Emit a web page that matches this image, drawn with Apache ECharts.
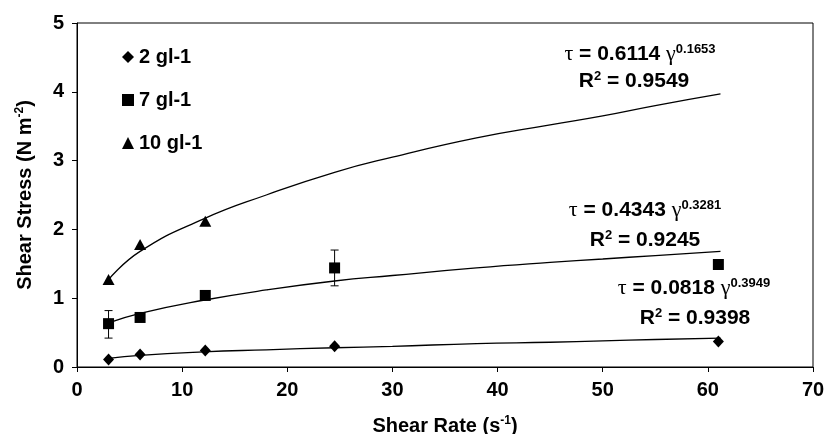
<!DOCTYPE html>
<html>
<head>
<meta charset="utf-8">
<script src="https://cdn.jsdelivr.net/npm/echarts@6/dist/echarts.min.js"></script>
<style>
  html, body { margin: 0; padding: 0; background: #fff; }
  #main { width: 833px; height: 434px; }
</style>
</head>
<body>
<div id="main"></div>
<script>
  // measured points
  const shearRate = [3, 6, 12.2, 24.5, 61];
  const shearRate10 = [3, 6, 12.2];
  const stress2 = [0.11, 0.18, 0.24, 0.30, 0.37];
  const stress7 = [0.63, 0.72, 1.04, 1.44, 1.49];
  const stress10 = [1.27, 1.78, 2.12];
  // error bars for 7 gl-1: [x, low, high]
  const errors7 = [[3, 0.42, 0.82], [24.5, 1.18, 1.70]];

  // trend lines
  const trendX = [3, 6, 12, 18, 24.5, 30, 38, 45, 50, 55, 61.2];
  const trend2 = [0.125, 0.17, 0.22, 0.25, 0.28, 0.30, 0.34, 0.36, 0.38, 0.40, 0.42];
  const trend7 = [0.64, 0.78, 0.97, 1.12, 1.25, 1.33, 1.44, 1.52, 1.57, 1.62, 1.68];
  const trend10 = [1.27, 1.68, 2.15, 2.50, 2.83, 3.05, 3.33, 3.52, 3.65, 3.80, 3.97];

  const xTicks = [0, 10, 20, 30, 40, 50, 60, 70];
  const yTicks = [0, 1, 2, 3, 4, 5];

  const FONT = '"Liberation Sans", Arial, sans-serif';
  const INK = '#000';

  const pairs = (xs, ys) => xs.map((x, i) => [x, ys[i]]);

  const myChart = echarts.init(document.getElementById('main'));

  const supRich = {
    sup: { fontSize: 13, fontWeight: 'bold', fontFamily: FONT, verticalAlign: 'top', padding: [0, 0, 10, 0] },
    g: { fontSize: 22, fontFamily: '"Liberation Serif", serif', fontWeight: 'normal' },
  };

  function eqText(left, top, text) {
    return {
      type: 'text',
      x: left,
      y: top,
      style: {
        text: text,
        fontSize: 21,
        fontWeight: 'bold',
        fontFamily: FONT,
        fill: INK,
        align: 'center',
        verticalAlign: 'middle',
        rich: supRich,
      },
    };
  }

  const trendLine = (data) => ({
    type: 'line',
    data: data,
    showSymbol: false,
    smooth: true,
    silent: true,
    lineStyle: { color: INK, width: 1.3 },
    z: 1,
  });

  const nameStyle = {
    fontSize: 20, fontWeight: 'bold', color: INK, fontFamily: FONT,
    rich: { sup: { fontSize: 12, fontWeight: 'bold', verticalAlign: 'top', padding: [0, 0, 10, 0] } },
  };

  const option = {
    animation: false,
    backgroundColor: '#fff',
    textStyle: { fontFamily: FONT },
    grid: {
      left: 77, right: 20, top: 23, bottom: 67,
      containLabel: false,
      outerBoundsMode: 'none',
      show: true, borderColor: INK, borderWidth: 1,
    },
    legend: {
      orient: 'vertical',
      left: 117,
      top: 42,
      itemWidth: 12,
      itemHeight: 12,
      itemGap: 23,
      textStyle: { fontSize: 20, fontWeight: 'bold', color: INK, fontFamily: FONT },
      data: ['2 gl-1', '7 gl-1', '10 gl-1'],
    },
    xAxis: {
      type: 'value',
      min: 0,
      max: 70,
      interval: 10,
      name: 'Shear Rate (s{sup|-1})',
      nameLocation: 'middle',
      nameGap: 48,
      nameTextStyle: nameStyle,
      axisLine: { lineStyle: { color: INK, width: 1 } },
      axisTick: { show: true, length: 5, lineStyle: { color: INK } },
      axisLabel: { fontSize: 20, fontWeight: 'bold', color: INK, margin: 13,
        formatter: (v) => (xTicks.includes(v) ? String(v) : '') },
      splitLine: { show: false },
    },
    yAxis: {
      type: 'value',
      min: 0,
      max: 5,
      interval: 1,
      name: 'Shear Stress (N m{sup|-2})',
      nameLocation: 'middle',
      nameGap: 41,
      nameTextStyle: nameStyle,
      axisLine: { show: true, lineStyle: { color: INK, width: 1 } },
      axisTick: { show: true, length: 5, lineStyle: { color: INK } },
      axisLabel: { fontSize: 20, fontWeight: 'bold', color: INK, margin: 13,
        formatter: (v) => (yTicks.includes(v) ? String(v) : '') },
      splitLine: { show: false },
    },
    graphic: [
      eqText(640, 54, '{g|τ} = 0.6114 {g|γ}{sup|0.1653}'),
      eqText(634, 81, 'R{sup|2} = 0.9549'),
      eqText(645, 210, '{g|τ} = 0.4343 {g|γ}{sup|0.3281}'),
      eqText(645, 240, 'R{sup|2} = 0.9245'),
      eqText(694, 288, '{g|τ} = 0.0818 {g|γ}{sup|0.3949}'),
      eqText(695, 318, 'R{sup|2} = 0.9398'),
    ],
    series: [
      trendLine(pairs(trendX, trend2)),
      trendLine(pairs(trendX, trend7)),
      trendLine(pairs(trendX, trend10)),
      {
        type: 'custom',
        silent: true,
        z: 2,
        data: errors7,
        renderItem(params, api) {
          const x = api.value(0);
          const lo = api.coord([x, api.value(1)]);
          const hi = api.coord([x, api.value(2)]);
          const w = 4;
          const style = { stroke: INK, lineWidth: 1 };
          return {
            type: 'group',
            children: [
              { type: 'line', shape: { x1: lo[0], y1: lo[1], x2: hi[0], y2: hi[1] }, style },
              { type: 'line', shape: { x1: lo[0] - w, y1: lo[1], x2: lo[0] + w, y2: lo[1] }, style },
              { type: 'line', shape: { x1: hi[0] - w, y1: hi[1], x2: hi[0] + w, y2: hi[1] }, style },
            ],
          };
        },
      },
      {
        name: '2 gl-1',
        type: 'scatter',
        symbol: 'diamond',
        symbolSize: [11, 12],
        itemStyle: { color: INK, opacity: 1 },
        data: pairs(shearRate, stress2),
        z: 3,
      },
      {
        name: '7 gl-1',
        type: 'scatter',
        symbol: 'rect',
        symbolSize: 11,
        itemStyle: { color: INK, opacity: 1 },
        data: pairs(shearRate, stress7),
        z: 3,
      },
      {
        name: '10 gl-1',
        type: 'scatter',
        symbol: 'triangle',
        symbolSize: [12, 11],
        itemStyle: { color: INK, opacity: 1 },
        data: pairs(shearRate10, stress10),
        z: 3,
      },
    ],
  };

  myChart.setOption(option);
</script>
</body>
</html>
